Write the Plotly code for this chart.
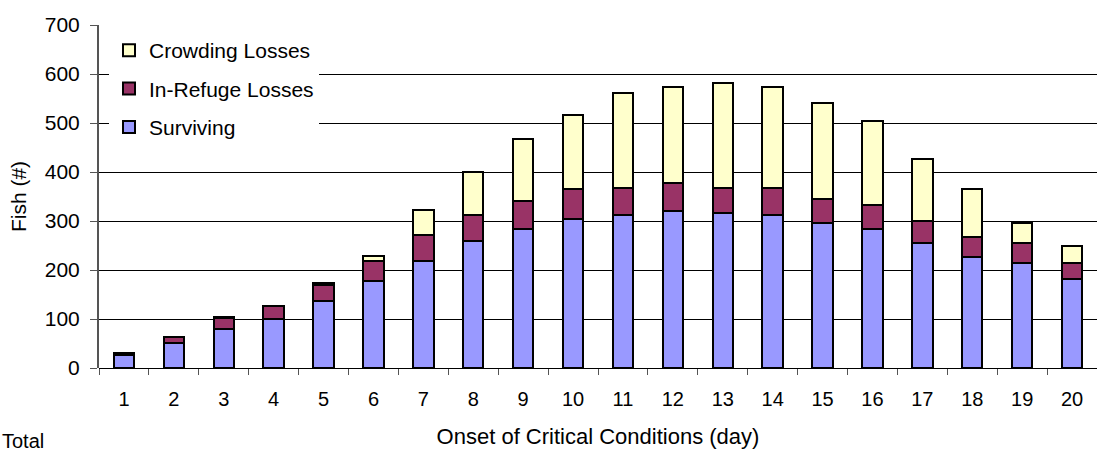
import plotly.graph_objects as go

days = [str(d) for d in range(1, 21)]
surviving = [26, 52, 80, 100, 137, 178, 218, 260, 284, 304, 313, 321, 316, 313, 296, 283, 255, 226, 214, 181]
in_refuge = [5, 12, 22, 26, 32, 40, 54, 52, 57, 62, 55, 56, 52, 55, 48, 49, 45, 41, 41, 33]
crowding = [0, 0, 3, 0, 5, 10, 50, 87, 127, 151, 194, 196, 213, 205, 196, 172, 126, 99, 41, 34]

# (name, values, fill colour, legend rank) - stacked bottom to top
series = [
    ("Surviving", surviving, "#9999FF", 3),
    ("In-Refuge Losses", in_refuge, "#993366", 2),
    ("Crowding Losses", crowding, "#FFFFCC", 1),
]

font_family = "Liberation Sans, Arial, sans-serif"

fig = go.Figure()
for name, vals, color, rank in series:
    fig.add_trace(go.Bar(
        x=days, y=vals, name=name, legendgroup=name, legendrank=rank,
        marker=dict(color=color, line=dict(color="black", width=2)),
    ))

fig.update_layout(
    width=1097, height=452,
    margin=dict(l=99, r=0, t=25, b=84),
    paper_bgcolor="white", plot_bgcolor="white",
    barmode="stack", bargap=0.59,
    font=dict(family=font_family, size=20, color="black"),
    showlegend=True,
    legend=dict(
        x=0.01, y=0.985, xanchor="left", yanchor="top",
        bgcolor="white", borderwidth=0,
        traceorder="grouped", tracegroupgap=8,
        font=dict(size=21),
    ),
    xaxis=dict(
        type="category", tickson="boundaries",
        ticks="outside", ticklen=6, tickcolor="#555555",
        showline=False, showgrid=False,
        ticklabelstandoff=17,
        tickfont=dict(size=20),
        title=dict(text="Onset of Critical Conditions (day)", standoff=19,
                   font=dict(size=22)),
    ),
    yaxis=dict(
        range=[0, 700], tickvals=list(range(0, 701, 100)),
        showgrid=True, gridcolor="black", gridwidth=1,
        showline=True, linecolor="#555555", linewidth=2,
        ticks="outside", ticklen=7, tickcolor="#555555",
        ticklabelstandoff=6,
        tickfont=dict(size=21),
        zeroline=True, zerolinecolor="black", zerolinewidth=1,
        title=dict(text="Fish (#)", standoff=12, font=dict(size=21)),
    ),
    annotations=[dict(
        text="Total", x=0, y=0, xref="paper", yref="paper",
        xanchor="left", yanchor="bottom", showarrow=False,
        font=dict(size=20), xshift=-99, yshift=-86,
    )],
)

fig.write_html("out.html")
